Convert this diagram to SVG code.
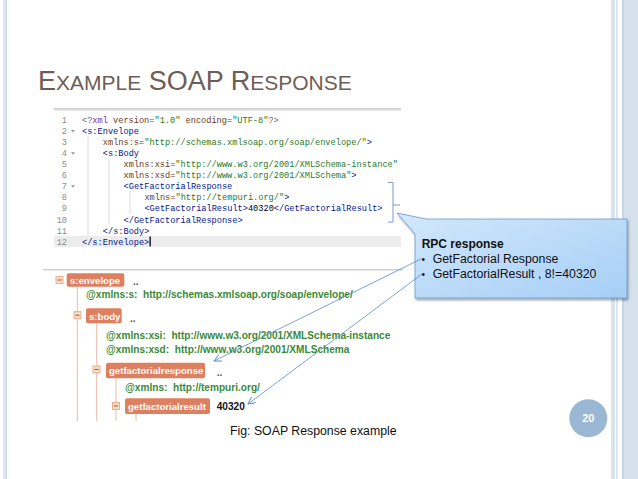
<svg xmlns="http://www.w3.org/2000/svg" width="638" height="479" viewBox="0 0 638 479">
<defs>
<style>
.title{font-family:"Liberation Sans",Arial,sans-serif;fill:#6f5d55}
.code{font-family:"Liberation Mono","DejaVu Sans Mono",monospace;font-size:8.65px}
.ln{fill:#8c8c8c;text-anchor:end}
.tag{fill:#00168e}
.att{fill:#6b3a1c}
.str{fill:#1f7a2a}
.pe{fill:#68685b}
.kw{fill:#7a2d9e}
.plain{fill:#000}
.guide{stroke:#dcdcdc;stroke-width:1}
.fold{fill:#9a9a9a}
.tree{font-family:"Liberation Sans",Arial,sans-serif;font-weight:bold;font-size:10.1px;white-space:pre}
.attr{fill:#3b8a37}
.nodebox{fill:#de7f5f}
.nodelbl{fill:#fff;font-family:"Liberation Sans",Arial,sans-serif;font-weight:bold;font-size:9.6px}
.minus{fill:#f9dcc6;stroke:#e3a47e;stroke-width:0.8}
.tline{stroke:#e8bcaa;stroke-width:1;fill:none}
.dots{fill:#555;font-family:"Liberation Sans",Arial,sans-serif;font-size:10px;font-weight:bold}
.conn{stroke:#5b8ccc;stroke-width:0.8;fill:none}
.body{font-family:"Liberation Sans",Arial,sans-serif;fill:#111}
</style>
<linearGradient id="callg" x1="0" y1="0" x2="1" y2="1">
<stop offset="0" stop-color="#d3e8fc"/>
<stop offset="1" stop-color="#a6cff6"/>
</linearGradient>
<linearGradient id="greyline" x1="0" y1="0" x2="0" y2="1">
<stop offset="0" stop-color="#c8c8c8"/>
<stop offset="1" stop-color="#efefef"/>
</linearGradient>
<clipPath id="codeclip"><rect x="54" y="108" width="347" height="142"/></clipPath>
<marker id="arr" markerWidth="10" markerHeight="10" refX="8" refY="4" orient="auto" markerUnits="userSpaceOnUse">
<path d="M1,0.5 L8,4 L1,7.5" fill="none" stroke="#5b8ccc" stroke-width="0.9"/>
</marker>
<filter id="sh" x="-10%" y="-10%" width="130%" height="130%">
<feGaussianBlur in="SourceAlpha" stdDeviation="1.2"/>
<feOffset dx="1" dy="1.5" result="b"/>
<feComponentTransfer><feFuncA type="linear" slope="0.35"/></feComponentTransfer>
<feMerge><feMergeNode/><feMergeNode in="SourceGraphic"/></feMerge>
</filter>
</defs>

<rect width="638" height="479" fill="#fff"/>

<!-- page frame -->
<g id="frame">
<rect x="3" y="0" width="4" height="479" fill="#dde6f0"/>
<line x1="6.5" y1="0" x2="6.5" y2="479" stroke="#c5d5e6" stroke-width="1"/>
<rect x="611" y="0" width="4" height="479" fill="#d8e3ee"/>
<line x1="617" y1="0" x2="617" y2="479" stroke="#b6c9dd" stroke-width="1"/>
<rect x="622" y="0" width="16" height="479" fill="#d4e0ec"/>
<line x1="623" y1="0" x2="623" y2="479" stroke="#b6c9dd" stroke-width="1"/>
</g>

<!-- title -->
<text class="title" x="38" y="90" font-size="27"><tspan>E</tspan><tspan font-size="21">XAMPLE</tspan><tspan> SOAP R</tspan><tspan font-size="21">ESPONSE</tspan></text>

<!-- code editor screenshot -->
<g id="code">
<rect x="54" y="108" width="347" height="3" fill="url(#greyline)"/>
<g clip-path="url(#codeclip)">
<rect x="54" y="236" width="347" height="11" fill="#ececec"/>
<line class="guide" x1="88" y1="136" x2="88" y2="236"/>
<line class="guide" x1="109" y1="158" x2="109" y2="225"/>
<line class="guide" x1="130" y1="191" x2="130" y2="214"/>
<g class="code ln">
<text x="67" y="123">1</text>
<text x="67" y="134">2</text>
<text x="67" y="145.1">3</text>
<text x="67" y="156.2">4</text>
<text x="67" y="167.2">5</text>
<text x="67" y="178.3">6</text>
<text x="67" y="189.3">7</text>
<text x="67" y="200.4">8</text>
<text x="67" y="211.4">9</text>
<text x="67" y="222.5">10</text>
<text x="67" y="233.5">11</text>
<text x="67" y="244.6">12</text>
</g>
<path class="fold" d="M71,130 h4 l-2,2.5z M71,152.2 h4 l-2,2.5z M71,185.3 h4 l-2,2.5z"/>
<g class="code">
<text x="82" y="123"><tspan class="pe">&lt;?</tspan><tspan class="kw">xml</tspan><tspan class="att"> version=</tspan><tspan class="str">"1.0"</tspan><tspan class="att"> encoding=</tspan><tspan class="str">"UTF-8"</tspan><tspan class="pe">?&gt;</tspan></text>
<text x="82" y="134" class="tag">&lt;s:Envelope</text>
<text x="102.8" y="145.1"><tspan class="att">xmlns:s=</tspan><tspan class="str">"http://schemas.xmlsoap.org/soap/envelope/"</tspan><tspan class="tag">&gt;</tspan></text>
<text x="102.8" y="156.2" class="tag">&lt;s:Body</text>
<text x="123.6" y="167.2"><tspan class="att">xmlns:xsi=</tspan><tspan class="str">"http://www.w3.org/2001/XMLSchema-instance"</tspan></text>
<text x="123.6" y="178.3"><tspan class="att">xmlns:xsd=</tspan><tspan class="str">"http://www.w3.org/2001/XMLSchema"</tspan><tspan class="tag">&gt;</tspan></text>
<text x="123.6" y="189.3" class="tag">&lt;GetFactorialResponse</text>
<text x="144.4" y="200.4"><tspan class="att">xmlns=</tspan><tspan class="str">"http://tempuri.org/"</tspan><tspan class="tag">&gt;</tspan></text>
<text x="144.4" y="211.4"><tspan class="tag">&lt;GetFactorialResult&gt;</tspan><tspan class="plain">40320</tspan><tspan class="tag">&lt;/GetFactorialResult&gt;</tspan></text>
<text x="123.6" y="222.5" class="tag">&lt;/GetFactorialResponse&gt;</text>
<text x="102.8" y="233.5" class="tag">&lt;/s:Body&gt;</text>
<text x="82" y="244.6" class="tag">&lt;/s:Envelope&gt;</text>
</g>
<rect x="149.5" y="236.5" width="1.3" height="10" fill="#000"/>
</g>
</g>

<!-- bracket -->
<g id="bracket">
<path d="M388,182.5 H393 V222 H388 M393,205 H400" fill="none" stroke="#7c9cc4" stroke-width="1"/>
</g>

<!-- callout -->
<g id="callout">
<path d="M426,219 H627 V298 H415 V234 L397,213 Z" fill="url(#callg)" stroke="#6a97cb" stroke-width="0.8" filter="url(#sh)"/>
<text class="body" x="421.7" y="248" font-size="12" font-weight="bold">RPC response</text>
<text class="body" x="421.5" y="263.3" font-size="10" fill="#6f8aa8">•</text>
<text class="body" x="432.7" y="263.3" font-size="12.3">GetFactorial Response</text>
<text class="body" x="421.5" y="278.3" font-size="10" fill="#6f8aa8">•</text>
<text class="body" x="432.7" y="278.3" font-size="12.3">GetFactorialResult , 8!=40320</text>
</g>

<!-- tree view screenshot -->
<g id="tree">
<rect x="43" y="269" width="360" height="2" fill="url(#greyline)"/>
<line class="tline" x1="77.3" y1="287" x2="77.3" y2="421"/>
<line class="tline" x1="96.7" y1="323" x2="96.7" y2="421"/>
<line class="tline" x1="116" y1="378" x2="116" y2="421"/>
<line class="tline" x1="136" y1="414" x2="136" y2="421"/>

<g id="n-envelope">
<rect class="minus" x="56" y="276.5" width="7" height="7"/>
<line x1="57.5" y1="280" x2="61.5" y2="280" stroke="#9a5a3a" stroke-width="1"/>
<rect class="nodebox" x="66.7" y="273.3" width="57.6" height="13.4" rx="2"/>
<text class="nodelbl" x="70" y="283.8">s:envelope</text>
<text class="dots" x="133" y="285">..</text>
</g>
<text class="tree attr" x="86" y="298" xml:space="preserve">@xmlns:s:  http://schemas.xmlsoap.org/soap/envelope/</text>

<g id="n-body">
<rect class="minus" x="74" y="311.7" width="7" height="7"/>
<line x1="75.5" y1="315.2" x2="79.5" y2="315.2" stroke="#9a5a3a" stroke-width="1"/>
<rect class="nodebox" x="86" y="308.3" width="35.7" height="15" rx="2"/>
<text class="nodelbl" x="89" y="319.6">s:body</text>
<text class="dots" x="130" y="321.5">..</text>
</g>
<text class="tree attr" x="106" y="338.5" xml:space="preserve">@xmlns:xsi:  http://www.w3.org/2001/XMLSchema-instance</text>
<text class="tree attr" x="106" y="353" xml:space="preserve">@xmlns:xsd:  http://www.w3.org/2001/XMLSchema</text>

<g id="n-response">
<rect class="minus" x="93" y="366" width="7" height="7"/>
<line x1="94.5" y1="369.5" x2="98.5" y2="369.5" stroke="#9a5a3a" stroke-width="1"/>
<rect class="nodebox" x="106" y="362.7" width="99" height="15.6" rx="2"/>
<text class="nodelbl" x="109" y="374.3">getfactorialresponse</text>
<text class="dots" x="216.7" y="376">..</text>
</g>
<text class="tree attr" x="125" y="391" xml:space="preserve">@xmlns:  http://tempuri.org/</text>

<g id="n-result">
<rect class="minus" x="112.5" y="402.5" width="7" height="7"/>
<line x1="114" y1="406" x2="118" y2="406" stroke="#9a5a3a" stroke-width="1"/>
<rect class="nodebox" x="125" y="398.3" width="85" height="15.7" rx="2"/>
<text class="nodelbl" x="128" y="410">getfactorialresult</text>
<text class="tree" x="216.7" y="409.8" fill="#111">40320</text>
</g>
</g>

<!-- connectors -->
<g id="connectors">
<line class="conn" x1="421" y1="259" x2="214" y2="361" marker-end="url(#arr)"/>
<line class="conn" x1="422" y1="274" x2="248" y2="404" marker-end="url(#arr)"/>
</g>

<!-- caption -->
<text class="body" x="230" y="435" font-size="12.3">Fig: SOAP Response example</text>

<!-- page number -->
<g id="pagenum">
<circle cx="588.3" cy="418.3" r="19" fill="#9ab7d4"/>
<text x="588.3" y="422.3" text-anchor="middle" font-family="Liberation Sans,Arial,sans-serif" font-weight="bold" font-size="11" fill="#fff">20</text>
</g>
</svg>
